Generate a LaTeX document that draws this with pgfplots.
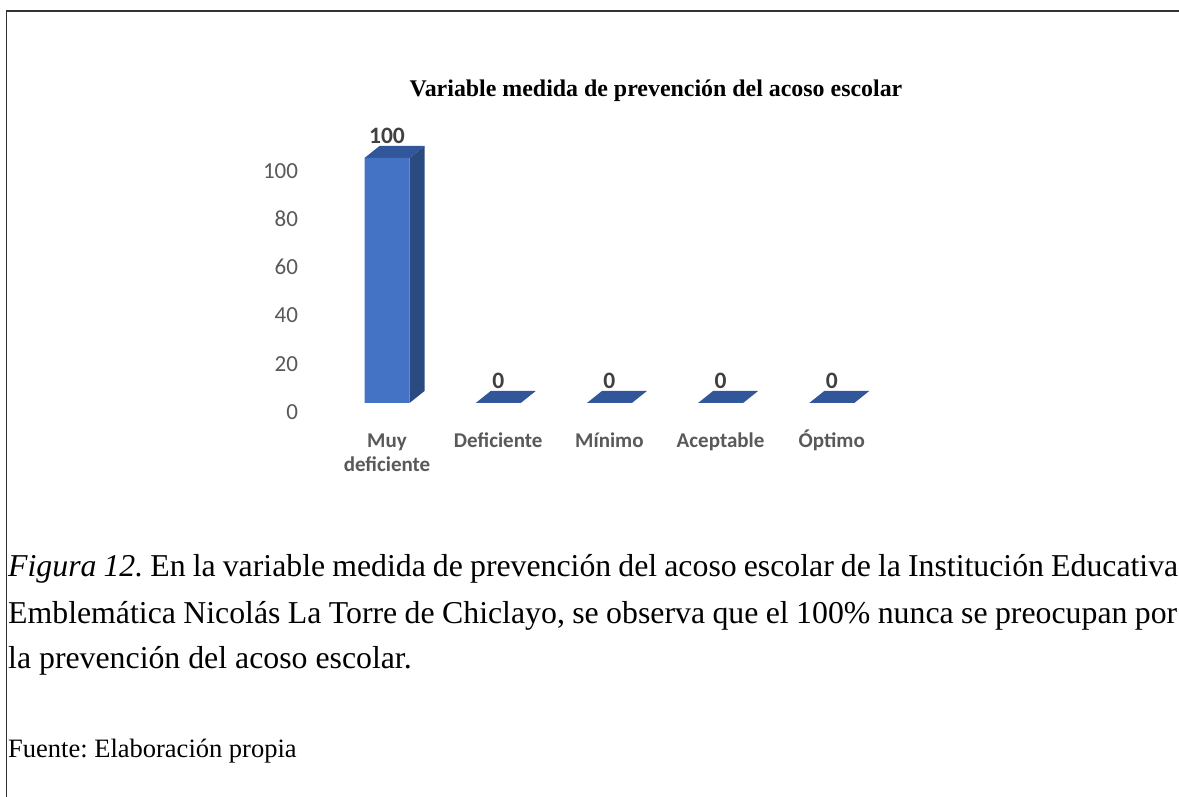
\documentclass[border=0pt]{standalone}
\usepackage{fontspec}
\setmainfont{Liberation Serif}
\newfontfamily\carlito{Carlito}
\usepackage{pgfplots}
\pgfplotsset{compat=1.18}
\definecolor{barfront}{HTML}{4472C4}
\definecolor{barside}{HTML}{2B4A80}
\definecolor{bartop}{HTML}{31579A}
\definecolor{txtgray}{HTML}{595959}
\definecolor{lblgray}{HTML}{404040}
\newcommand\muydef{\vtop{\baselineskip=24pt\halign{\hfil##\hfil\cr Muy\cr deficiente\cr}}}
\frenchspacing
\begin{document}
\begin{tikzpicture}[x=1pt,y=1pt]
\useasboundingbox (0,0) rectangle (1179,796);
\clip (0,0) rectangle (1179,796);
\fill[white] (0,0) rectangle (1179,796);
\draw[line width=1.2pt, black!80] (6.5,-5) -- (6.5,785) -- (1185,785);
\node[font=\bfseries\fontsize{23.9}{28}\selectfont, anchor=base, inner sep=0pt] at (656,699) {Variable medida de prevención del acoso escolar};
\begin{axis}[at={(309.2pt,368.5pt)}, anchor=south west, scale only axis,
  width=600.4pt, height=306.25pt, xmin=-0.7, xmax=4.7, ymin=-10, ymax=115,
  axis line style={draw=none}, major tick length=0pt,
  /pgf/number format/assume math mode=true,
  xtick={0,1,2,3,4},
  xticklabels={\muydef,Deficiente,Mínimo,Aceptable,Óptimo},
  xticklabel style={font=\carlito\bfseries\fontsize{21}{24}\selectfont, text=txtgray, anchor=base, inner sep=0pt, yshift=-20.5pt},
  ytick={-3.71,15.98,35.68,55.38,75.08,94.78},
  yticklabels={0,20,40,60,80,100},
  yticklabel style={font=\carlito\fontsize{23}{27}\selectfont, text=txtgray, anchor=east, inner sep=0pt, xshift=-11pt},
  clip=false]
\addplot[fill=barside, draw=none] coordinates {(0.2025,0) (0.3375,4.9) (0.3375,104.9) (0.2025,100)} -- cycle;
\addplot[fill=bartop, draw=none] coordinates {(-0.2025,100) (0.2025,100) (0.3375,104.9) (-0.0675,104.9)} -- cycle;
\addplot[fill=bartop, draw=none] coordinates {(0.7975,0) (1.2025,0) (1.3375,4.9) (0.9325,4.9)} -- cycle;
\addplot[fill=bartop, draw=none] coordinates {(1.7975,0) (2.2025,0) (2.3375,4.9) (1.9325,4.9)} -- cycle;
\addplot[fill=bartop, draw=none] coordinates {(2.7975,0) (3.2025,0) (3.3375,4.9) (2.9325,4.9)} -- cycle;
\addplot[fill=bartop, draw=none] coordinates {(3.7975,0) (4.2025,0) (4.3375,4.9) (3.9325,4.9)} -- cycle;
\addplot[ybar, bar width=0.405, fill=barfront, draw=none,
  nodes near coords,
  nodes near coords style={font=\carlito\bfseries\fontsize{23.5}{27}\selectfont, text=lblgray, anchor=south, inner sep=0pt, yshift=14pt}]
  coordinates {(0,100) (1,0) (2,0) (3,0) (4,0)};
\end{axis}
\node[anchor=base west, inner sep=0pt, font=\fontsize{31.8}{38}\selectfont] at (8,219.5) {\makebox[1170pt][s]{\textit{Figura 12.} En la variable medida de prevención del acoso escolar de la Institución Educativa}};
\node[anchor=base west, inner sep=0pt, font=\fontsize{31.8}{38}\selectfont] at (8,172.5) {\makebox[1169pt][s]{Emblemática Nicolás La Torre de Chiclayo, se observa que el 100\% nunca se preocupan por}};
\node[anchor=base west, inner sep=0pt, font=\fontsize{31.8}{38}\selectfont] at (8,127) {la prevención del acoso escolar.};
\node[anchor=base west, inner sep=0pt, font=\fontsize{26.5}{32}\selectfont] at (8,38) {Fuente: Elaboración propia};
\end{tikzpicture}
\end{document}
